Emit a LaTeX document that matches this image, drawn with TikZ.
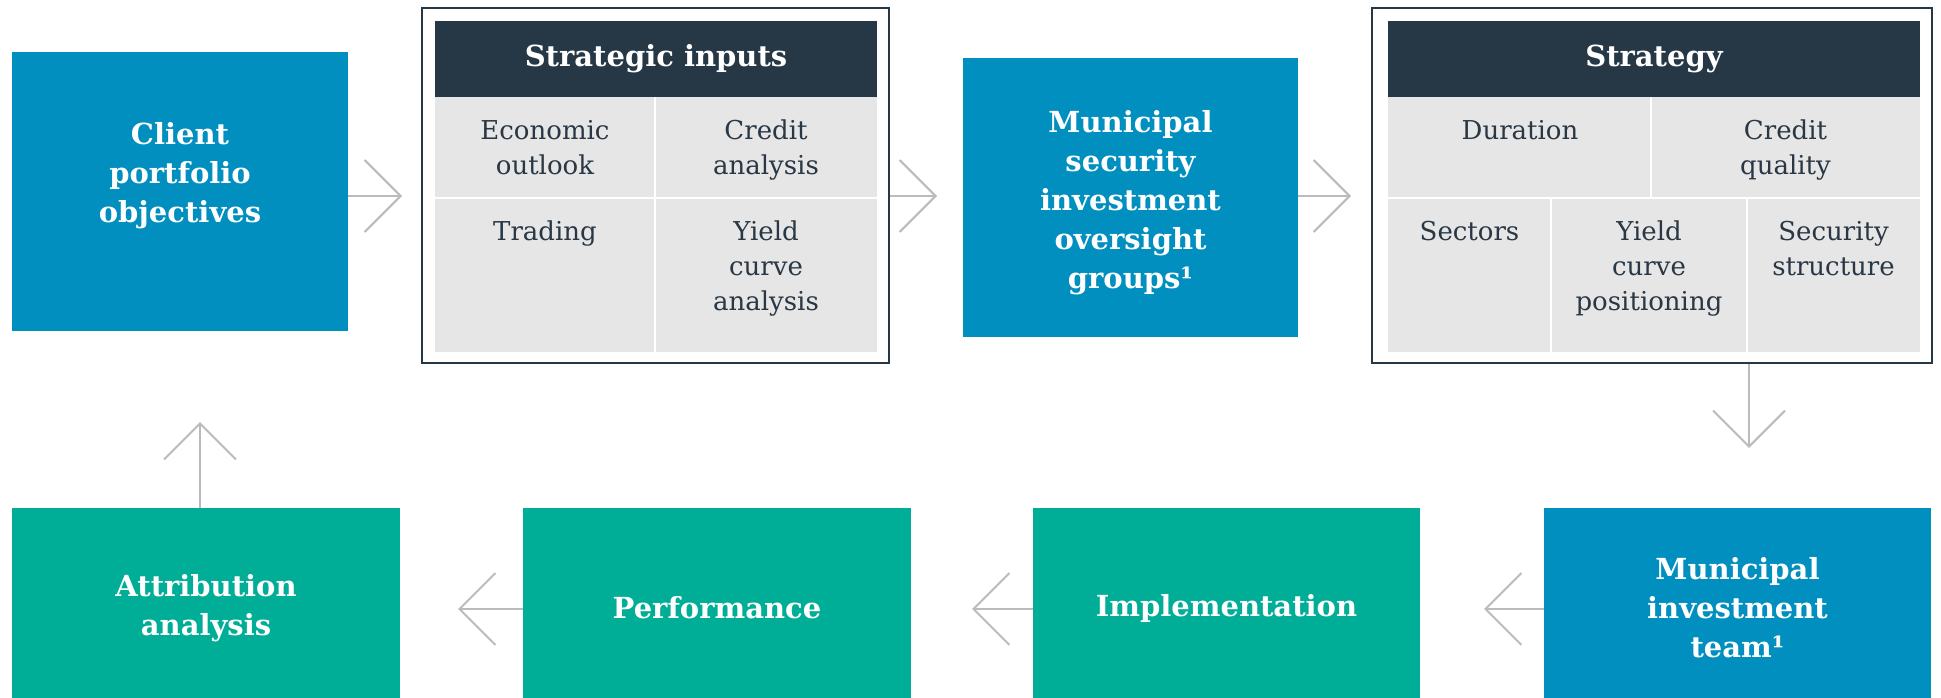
\documentclass[tikz,border=0pt]{standalone}
\usepackage{fontspec}
\setmainfont{DejaVu Serif}
\usetikzlibrary{arrows.meta}
\definecolor{mblue}{HTML}{008FBF}
\definecolor{mteal}{HTML}{00AE97}
\definecolor{mdark}{HTML}{263746}
\definecolor{mcell}{HTML}{E6E6E6}
\definecolor{marrow}{HTML}{BBBBBB}
\definecolor{mtext}{HTML}{2A3744}
\newcommand{\boldtxt}{\fontsize{29}{39}\selectfont\bfseries}
\newcommand{\celltxt}{\fontsize{26}{35}\selectfont}
\tikzset{
	box/.style={inner sep=0pt,align=center,text=white,font=\boldtxt},
	bluebox/.style={box,fill=mblue},
	tealbox/.style={box,fill=mteal},
	frame/.style={draw=mdark,line width=2pt,inner sep=0pt},
	head/.style={fill=mdark},
	sep/.style={draw=white,line width=2pt},
	cell/.style={inner sep=0pt,align=center,text=mtext,font=\celltxt,anchor=north},
	flow/.style={draw=marrow,line width=2pt,-{Straight Barb[length=36pt,width=72pt]}}
}
\begin{document}
\begin{tikzpicture}[x=1pt,y=-1pt]
		\useasboundingbox (0,0) rectangle (1941,698);
		% top row
		\node[bluebox,minimum width=336pt,minimum height=279pt] (client) at (180,191.5) {};
		\node[box] (clientT) at (180,176) {Client\\portfolio\\objectives};
		\node[frame,minimum width=467pt,minimum height=355pt] (inputs) at (655.5,185.5) {};
		\fill[head] (435,21) rectangle (877,97);
		\node[box] (inputsH) at (656,59) {Strategic inputs};
		\fill[mcell] (435,97) rectangle (877,352);
		\draw[sep] (655,97) -- (655,352);
		\draw[sep] (435,198) -- (877,198);
		\node[cell] (econ) at (545,120) {Economic\\outlook};
		\node[cell] (credit) at (766,120) {Credit\\analysis};
		\node[cell] (trading) at (545,221) {Trading};
		\node[cell] (yield) at (766,221) {Yield\\curve\\analysis};
		\node[bluebox,minimum width=335pt,minimum height=279pt] (msec) at (1130.5,197.5) {};
		\node[box] (msecT) at (1130.5,203) {Municipal\\security\\investment\\oversight\\groups¹};
		\node[frame,minimum width=560pt,minimum height=355pt] (strat) at (1652,185.5) {};
		\fill[head] (1388,21) rectangle (1920,97);
		\node[box] (stratH) at (1654,59) {Strategy};
		\fill[mcell] (1388,97) rectangle (1920,352);
		\draw[sep] (1651,97) -- (1651,198);
		\draw[sep] (1551,198) -- (1551,352);
		\draw[sep] (1747,198) -- (1747,352);
		\draw[sep] (1388,198) -- (1920,198);
		\node[cell] (duration) at (1520,120) {Duration};
		\node[cell] (quality) at (1785.5,120) {Credit\\quality};
		\node[cell] (sectors) at (1469.5,221) {Sectors};
		\node[cell] (curve) at (1649,221) {Yield\\curve\\positioning};
		\node[cell] (structure) at (1833.5,221) {Security\\structure};
		% bottom row, boxes run past the lower edge
		\node[tealbox,minimum width=388pt,minimum height=200pt] (attr) at (206,608) {Attribution\\analysis};
		\node[tealbox,minimum width=388pt,minimum height=200pt] (perf) at (717,608) {Performance};
		\node[tealbox,minimum width=387pt,minimum height=200pt] (impl) at (1226.5,608) {Implementation};
		\node[bluebox,minimum width=387pt,minimum height=200pt] (team) at (1737.5,608) {Municipal\\investment\\team¹};
		% arrows
		\coordinate (t1) at (402,196);
		\coordinate (t2) at (937,196);
		\coordinate (t3) at (1351,196);
		\coordinate (t4) at (1749,448);
		\coordinate (t5) at (1484,609);
		\coordinate (t6) at (972,609);
		\coordinate (t7) at (458,609);
		\coordinate (t8) at (200,422);
		\draw[flow] (client.east |- t1) -- (t1);
		\draw[flow] (inputs.east |- t2) -- (t2);
		\draw[flow] (msec.east |- t3) -- (t3);
		\draw[flow] (strat.south -| t4) -- (t4);
		\draw[flow] (team.west |- t5) -- (t5);
		\draw[flow] (impl.west |- t6) -- (t6);
		\draw[flow] (perf.west |- t7) -- (t7);
		\draw[flow] (attr.north -| t8) -- (t8);
\end{tikzpicture}
\end{document}
